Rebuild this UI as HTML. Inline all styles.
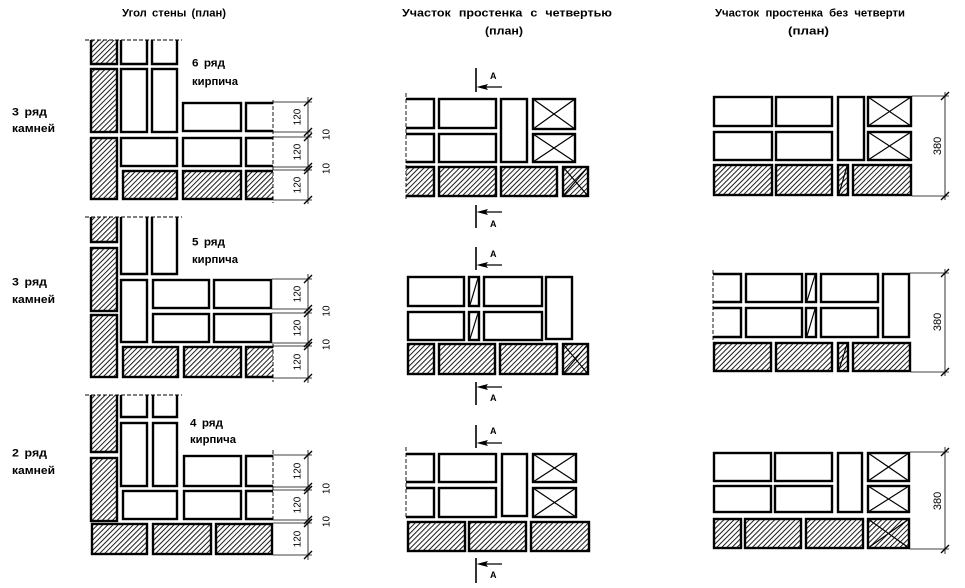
<!DOCTYPE html>
<html><head><meta charset="utf-8"><style>
html,body{margin:0;padding:0;background:#fff;}
svg{display:block;}
text{font-family:"Liberation Sans","DejaVu Sans",sans-serif;font-weight:bold;fill:#000;}
.b{fill:#fff;stroke:#000;stroke-width:2.4;}
.h{fill:url(#hp);stroke:#000;stroke-width:2.4;}
.hf{fill:url(#hp);stroke:none;}
.o{fill:none;stroke:#000;stroke-width:2.4;}
.t{stroke:#000;stroke-width:0.8;fill:none;}
.d{stroke:#000;stroke-width:0.9;fill:none;stroke-dasharray:4 2;}
.x{stroke:#000;stroke-width:1.2;fill:none;}
.k{stroke:#000;stroke-width:1.3;}
.m{stroke:#000;stroke-width:1.6;}
.n{font-size:10px;font-weight:normal;}
</style></head><body>
<svg width="965" height="588" viewBox="0 0 965 588" xmlns="http://www.w3.org/2000/svg">
<defs>
<pattern id="hp" patternUnits="userSpaceOnUse" width="3.6" height="3.6" patternTransform="rotate(45)">
<line x1="1" y1="0" x2="1" y2="3.6" stroke="#000" stroke-width="0.9"/>
</pattern>
</defs>
<rect width="965" height="588" fill="#fff"/>

<!-- headers -->
<text x="122" y="16.5" font-size="11" textLength="104" lengthAdjust="spacingAndGlyphs" word-spacing="2">Угол стены (план)</text>
<text x="402" y="16.5" font-size="11" textLength="210" lengthAdjust="spacingAndGlyphs" word-spacing="4">Участок простенка с четвертью</text>
<text x="485" y="34.5" font-size="11" textLength="38" lengthAdjust="spacingAndGlyphs">(план)</text>
<text x="715" y="16.5" font-size="11" textLength="190" lengthAdjust="spacingAndGlyphs" word-spacing="3">Участок простенка без четверти</text>
<text x="788" y="34.5" font-size="11" textLength="41" lengthAdjust="spacingAndGlyphs">(план)</text>

<!-- ================= LEFT ROW 1 ================= -->
<line class="d" x1="85" y1="40" x2="182" y2="40"/>
<rect class="hf" x="90" y="40" width="28" height="25"/>
<path class="o" d="M91 40 V64 H117 V40"/>
<rect class="h" x="91" y="69" width="26" height="63"/>
<rect class="h" x="91" y="138" width="26" height="61"/>
<path class="o" d="M121 40 V64 H147 V40"/>
<rect class="b" x="121" y="69" width="26" height="63"/>
<path class="o" d="M152 40 V64 H177 V40"/>
<rect class="b" x="152" y="69" width="25" height="63"/>
<rect class="b" x="121" y="138" width="56" height="28"/>
<rect class="b" x="183" y="103" width="58" height="28"/>
<path class="o" d="M273 103 H246 V131 H273"/>
<rect class="b" x="183" y="138" width="58" height="28"/>
<path class="o" d="M273 138 H246 V166 H273"/>
<rect class="h" x="123" y="171" width="54" height="28"/>
<rect class="h" x="183" y="171" width="58" height="28"/>
<rect class="hf" x="245" y="170" width="28" height="30"/>
<path class="o" d="M273 171 H246 V199 H273"/>
<line class="d" x1="273" y1="100" x2="273" y2="203"/>
<g class="t">
<line x1="273" y1="102" x2="312" y2="102"/><line x1="273" y1="132" x2="312" y2="132"/>
<line x1="273" y1="137" x2="312" y2="137"/><line x1="273" y1="167" x2="312" y2="167"/>
<line x1="273" y1="170" x2="312" y2="170"/><line x1="273" y1="200" x2="312" y2="200"/>
<line x1="308" y1="97" x2="308" y2="204"/>
</g>
<g class="k">
<line x1="304" y1="106" x2="312" y2="98"/><line x1="304" y1="136" x2="312" y2="128"/>
<line x1="304" y1="141" x2="312" y2="133"/><line x1="304" y1="171" x2="312" y2="163"/>
<line x1="304" y1="174" x2="312" y2="166"/><line x1="304" y1="204" x2="312" y2="196"/>
</g>
<text class="n" transform="translate(300.5,117) rotate(-90)" text-anchor="middle">120</text>
<text class="n" transform="translate(300.5,152) rotate(-90)" text-anchor="middle">120</text>
<text class="n" transform="translate(300.5,185) rotate(-90)" text-anchor="middle">120</text>
<text class="n" transform="translate(329.5,134.5) rotate(-90)" text-anchor="middle">10</text>
<text class="n" transform="translate(329.5,168.5) rotate(-90)" text-anchor="middle">10</text>
<text x="192" y="66.5" font-size="11" textLength="33" lengthAdjust="spacingAndGlyphs" word-spacing="2">6 ряд</text>
<text x="192" y="85" font-size="11" textLength="46" lengthAdjust="spacingAndGlyphs">кирпича</text>
<text x="12" y="115.5" font-size="11" textLength="35" lengthAdjust="spacingAndGlyphs" word-spacing="2">3 ряд</text>
<text x="12" y="132" font-size="11" textLength="43" lengthAdjust="spacingAndGlyphs">камней</text>

<!-- ================= LEFT ROW 2 ================= -->
<line class="d" x1="85" y1="217" x2="182" y2="217"/>
<rect class="hf" x="90" y="217" width="28" height="26"/>
<path class="o" d="M91 217 V242 H117 V217"/>
<rect class="h" x="91" y="248" width="26" height="63"/>
<rect class="h" x="91" y="315" width="26" height="62"/>
<path class="o" d="M121 217 V274 H147 V217"/>
<rect class="b" x="121" y="280" width="26" height="62"/>
<path class="o" d="M152 217 V274 H177 V217"/>
<rect class="b" x="153" y="280" width="56" height="28"/>
<rect class="b" x="214" y="280" width="57" height="28"/>
<rect class="b" x="153" y="314" width="56" height="28"/>
<rect class="b" x="214" y="314" width="57" height="28"/>
<rect class="h" x="123" y="347" width="55" height="30"/>
<rect class="h" x="184" y="347" width="57" height="30"/>
<rect class="hf" x="245" y="346" width="28" height="32"/>
<path class="o" d="M273 347 H246 V377 H273"/>
<line class="d" x1="273" y1="344" x2="273" y2="382"/>
<g class="t">
<line x1="272" y1="279" x2="312" y2="279"/><line x1="272" y1="309" x2="312" y2="309"/>
<line x1="272" y1="313" x2="312" y2="313"/><line x1="272" y1="343" x2="312" y2="343"/>
<line x1="273" y1="346" x2="312" y2="346"/><line x1="273" y1="378" x2="312" y2="378"/>
<line x1="308" y1="274" x2="308" y2="383"/>
</g>
<g class="k">
<line x1="304" y1="283" x2="312" y2="275"/><line x1="304" y1="313" x2="312" y2="305"/>
<line x1="304" y1="317" x2="312" y2="309"/><line x1="304" y1="347" x2="312" y2="339"/>
<line x1="304" y1="350" x2="312" y2="342"/><line x1="304" y1="382" x2="312" y2="374"/>
</g>
<text class="n" transform="translate(300.5,294) rotate(-90)" text-anchor="middle">120</text>
<text class="n" transform="translate(300.5,328) rotate(-90)" text-anchor="middle">120</text>
<text class="n" transform="translate(300.5,362) rotate(-90)" text-anchor="middle">120</text>
<text class="n" transform="translate(329.5,311) rotate(-90)" text-anchor="middle">10</text>
<text class="n" transform="translate(329.5,344.5) rotate(-90)" text-anchor="middle">10</text>
<text x="192" y="245.5" font-size="11" textLength="33" lengthAdjust="spacingAndGlyphs" word-spacing="2">5 ряд</text>
<text x="192" y="263" font-size="11" textLength="46" lengthAdjust="spacingAndGlyphs">кирпича</text>
<text x="12" y="285.5" font-size="11" textLength="35" lengthAdjust="spacingAndGlyphs" word-spacing="2">3 ряд</text>
<text x="12" y="303" font-size="11" textLength="43" lengthAdjust="spacingAndGlyphs">камней</text>

<!-- ================= LEFT ROW 3 ================= -->
<line class="d" x1="85" y1="395" x2="182" y2="395"/>
<rect class="hf" x="90" y="395" width="28" height="58"/>
<path class="o" d="M91 395 V452 H117 V395"/>
<rect class="h" x="91" y="458" width="26" height="63"/>
<path class="o" d="M121 395 V417 H147 V395"/>
<rect class="b" x="121" y="423" width="26" height="63"/>
<path class="o" d="M153 395 V417 H177 V395"/>
<rect class="b" x="153" y="423" width="24" height="63"/>
<rect class="b" x="184" y="456" width="57" height="30"/>
<path class="o" d="M273 456 H246 V486 H273"/>
<rect class="b" x="123" y="491" width="54" height="28"/>
<rect class="b" x="184" y="491" width="57" height="28"/>
<path class="o" d="M273 491 H246 V519 H273"/>
<rect class="h" x="92" y="524" width="55" height="30"/>
<rect class="h" x="153" y="524" width="58" height="30"/>
<rect class="h" x="216" y="524" width="56" height="30"/>
<line class="d" x1="273" y1="450" x2="273" y2="522"/>
<g class="t">
<line x1="273" y1="455" x2="312" y2="455"/><line x1="273" y1="487" x2="312" y2="487"/>
<line x1="273" y1="490" x2="312" y2="490"/><line x1="273" y1="520" x2="312" y2="520"/>
<line x1="273" y1="523" x2="312" y2="523"/><line x1="273" y1="555" x2="312" y2="555"/>
<line x1="308" y1="450" x2="308" y2="560"/>
</g>
<g class="k">
<line x1="304" y1="459" x2="312" y2="451"/><line x1="304" y1="491" x2="312" y2="483"/>
<line x1="304" y1="494" x2="312" y2="486"/><line x1="304" y1="524" x2="312" y2="516"/>
<line x1="304" y1="527" x2="312" y2="519"/><line x1="304" y1="559" x2="312" y2="551"/>
</g>
<text class="n" transform="translate(300.5,471) rotate(-90)" text-anchor="middle">120</text>
<text class="n" transform="translate(300.5,505) rotate(-90)" text-anchor="middle">120</text>
<text class="n" transform="translate(300.5,539) rotate(-90)" text-anchor="middle">120</text>
<text class="n" transform="translate(329.5,488.5) rotate(-90)" text-anchor="middle">10</text>
<text class="n" transform="translate(329.5,521.5) rotate(-90)" text-anchor="middle">10</text>
<text x="190" y="426.5" font-size="11" textLength="33" lengthAdjust="spacingAndGlyphs" word-spacing="2">4 ряд</text>
<text x="190" y="443" font-size="11" textLength="46" lengthAdjust="spacingAndGlyphs">кирпича</text>
<text x="12" y="456.5" font-size="11" textLength="35" lengthAdjust="spacingAndGlyphs" word-spacing="2">2 ряд</text>
<text x="12" y="474" font-size="11" textLength="43" lengthAdjust="spacingAndGlyphs">камней</text>

<!-- ================= MIDDLE ROW 1 ================= -->
<line class="d" x1="406" y1="93" x2="406" y2="199"/>
<path class="o" d="M406 99 H434 V128 H406"/>
<rect class="b" x="439" y="99" width="57" height="29"/>
<rect class="b" x="501" y="99" width="26" height="63"/>
<rect class="b" x="533" y="99" width="42" height="30"/>
<path class="x" d="M533 99 L575 129 M575 99 L533 129"/>
<path class="o" d="M406 134 H434 V162 H406"/>
<rect class="b" x="439" y="134" width="57" height="28"/>
<rect class="b" x="533" y="134" width="42" height="28"/>
<path class="x" d="M533 134 L575 162 M575 134 L533 162"/>
<rect class="hf" x="406" y="166" width="29" height="31"/>
<path class="o" d="M406 167 H434 V196 H406"/>
<rect class="h" x="439" y="167" width="57" height="29"/>
<rect class="h" x="501" y="167" width="56" height="29"/>
<rect class="h" x="563" y="167" width="25" height="29"/>
<path class="x" d="M563 167 L588 196 M588 167 L563 196"/>
<line class="m" x1="476" y1="68" x2="476" y2="92"/>
<line class="x" x1="480" y1="87" x2="502" y2="87"/>
<polygon points="476.5,87 488,84 486,87 488,90" fill="#000"/>
<text x="490" y="79" font-size="9">A</text>
<line class="m" x1="476" y1="205" x2="476" y2="228"/>
<line class="x" x1="480" y1="212" x2="502" y2="212"/>
<polygon points="476.5,212 488,209 486,212 488,215" fill="#000"/>
<text x="490" y="227" font-size="9">A</text>

<!-- ================= MIDDLE ROW 2 ================= -->
<rect class="b" x="408" y="277" width="56" height="29"/>
<rect class="b" x="469" y="277" width="10" height="29"/>
<line class="x" x1="470" y1="305" x2="478" y2="278"/>
<rect class="b" x="484" y="277" width="58" height="29"/>
<rect class="b" x="546" y="277" width="26" height="62"/>
<rect class="b" x="408" y="312" width="56" height="28"/>
<rect class="b" x="469" y="312" width="10" height="28"/>
<line class="x" x1="470" y1="339" x2="478" y2="313"/>
<rect class="b" x="484" y="312" width="58" height="28"/>
<rect class="h" x="408" y="344" width="26" height="30"/>
<rect class="h" x="439" y="344" width="56" height="30"/>
<rect class="h" x="500" y="344" width="57" height="30"/>
<rect class="h" x="563" y="344" width="25" height="30"/>
<path class="x" d="M563 344 L588 374 M588 344 L563 374"/>
<line class="m" x1="476" y1="247" x2="476" y2="270"/>
<line class="x" x1="480" y1="265" x2="502" y2="265"/>
<polygon points="476.5,265 488,262 486,265 488,268" fill="#000"/>
<text x="490" y="257" font-size="9">A</text>
<line class="m" x1="476" y1="382" x2="476" y2="405"/>
<line class="x" x1="480" y1="387" x2="502" y2="387"/>
<polygon points="476.5,387 488,384 486,387 488,390" fill="#000"/>
<text x="490" y="401" font-size="9">A</text>

<!-- ================= MIDDLE ROW 3 ================= -->
<line class="d" x1="406" y1="447" x2="406" y2="519"/>
<path class="o" d="M406 454 H434 V482 H406"/>
<rect class="b" x="439" y="454" width="57" height="28"/>
<rect class="b" x="502" y="454" width="25" height="62"/>
<rect class="b" x="533" y="454" width="43" height="28"/>
<path class="x" d="M533 454 L576 482 M576 454 L533 482"/>
<path class="o" d="M406 488 H434 V517 H406"/>
<rect class="b" x="439" y="488" width="57" height="29"/>
<rect class="b" x="533" y="488" width="43" height="29"/>
<path class="x" d="M533 488 L576 517 M576 488 L533 517"/>
<rect class="h" x="408" y="522" width="57" height="29"/>
<rect class="h" x="469" y="522" width="57" height="29"/>
<rect class="h" x="531" y="522" width="58" height="29"/>
<line class="m" x1="476" y1="425" x2="476" y2="448"/>
<line class="x" x1="480" y1="443" x2="502" y2="443"/>
<polygon points="476.5,443 488,440 486,443 488,446" fill="#000"/>
<text x="490" y="434" font-size="9">A</text>
<line class="m" x1="476" y1="558" x2="476" y2="583"/>
<line class="x" x1="480" y1="564" x2="502" y2="564"/>
<polygon points="476.5,564 488,561 486,564 488,567" fill="#000"/>
<text x="490" y="578" font-size="9">A</text>

<!-- ================= RIGHT ROW 1 ================= -->
<rect class="b" x="714" y="97" width="58" height="29"/>
<rect class="b" x="776" y="97" width="56" height="29"/>
<rect class="b" x="838" y="97" width="26" height="63"/>
<rect class="b" x="868" y="97" width="43" height="29"/>
<path class="x" d="M868 97 L911 126 M911 97 L868 126"/>
<rect class="b" x="714" y="132" width="58" height="28"/>
<rect class="b" x="776" y="132" width="56" height="28"/>
<rect class="b" x="868" y="132" width="43" height="28"/>
<path class="x" d="M868 132 L911 160 M911 132 L868 160"/>
<rect class="h" x="714" y="165" width="58" height="30"/>
<rect class="h" x="776" y="165" width="56" height="30"/>
<rect class="h" x="838" y="165" width="10" height="30"/>
<line class="x" x1="839" y1="194" x2="847" y2="166"/>
<rect class="h" x="853" y="165" width="58" height="30"/>
<g class="t">
<line x1="912" y1="96" x2="949" y2="96"/><line x1="912" y1="196" x2="949" y2="196"/>
<line x1="945" y1="92" x2="945" y2="200"/>
</g>
<g class="k">
<line x1="941" y1="100" x2="949" y2="92"/><line x1="941" y1="200" x2="949" y2="192"/>
</g>
<text class="n" style="font-size:11px" transform="translate(941,146) rotate(-90)" text-anchor="middle">380</text>

<!-- ================= RIGHT ROW 2 ================= -->
<line class="d" x1="713" y1="270" x2="713" y2="340"/>
<path class="o" d="M713 274 H741 V302 H713"/>
<rect class="b" x="746" y="274" width="56" height="28"/>
<rect class="b" x="806" y="274" width="10" height="28"/>
<line class="x" x1="807" y1="301" x2="815" y2="275"/>
<rect class="b" x="821" y="274" width="57" height="28"/>
<rect class="b" x="883" y="274" width="26" height="63"/>
<path class="o" d="M713 308 H741 V337 H713"/>
<rect class="b" x="746" y="308" width="56" height="29"/>
<rect class="b" x="806" y="308" width="10" height="29"/>
<line class="x" x1="807" y1="336" x2="815" y2="309"/>
<rect class="b" x="821" y="308" width="57" height="29"/>
<rect class="h" x="714" y="343" width="57" height="28"/>
<rect class="h" x="776" y="343" width="56" height="28"/>
<rect class="h" x="838" y="343" width="10" height="28"/>
<line class="x" x1="839" y1="370" x2="847" y2="344"/>
<rect class="h" x="853" y="343" width="57" height="28"/>
<g class="t">
<line x1="910" y1="273" x2="949" y2="273"/><line x1="911" y1="372" x2="949" y2="372"/>
<line x1="945" y1="269" x2="945" y2="376"/>
</g>
<g class="k">
<line x1="941" y1="277" x2="949" y2="269"/><line x1="941" y1="376" x2="949" y2="368"/>
</g>
<text class="n" style="font-size:11px" transform="translate(941,322) rotate(-90)" text-anchor="middle">380</text>

<!-- ================= RIGHT ROW 3 ================= -->
<rect class="b" x="714" y="453" width="57" height="28"/>
<rect class="b" x="775" y="453" width="57" height="28"/>
<rect class="b" x="838" y="453" width="24" height="59"/>
<rect class="b" x="868" y="453" width="41" height="28"/>
<path class="x" d="M868 453 L909 481 M909 453 L868 481"/>
<rect class="b" x="714" y="486" width="57" height="26"/>
<rect class="b" x="775" y="486" width="57" height="26"/>
<rect class="b" x="868" y="486" width="41" height="26"/>
<path class="x" d="M868 486 L909 512 M909 486 L868 512"/>
<rect class="h" x="714" y="519" width="27" height="29"/>
<rect class="h" x="745" y="519" width="56" height="29"/>
<rect class="h" x="806" y="519" width="57" height="29"/>
<rect class="h" x="868" y="519" width="41" height="29"/>
<path class="x" d="M868 519 L909 548 M909 519 L868 548"/>
<g class="t">
<line x1="910" y1="452" x2="949" y2="452"/><line x1="910" y1="549" x2="949" y2="549"/>
<line x1="945" y1="447" x2="945" y2="554"/>
</g>
<g class="k">
<line x1="941" y1="456" x2="949" y2="448"/><line x1="941" y1="553" x2="949" y2="545"/>
</g>
<text class="n" style="font-size:11px" transform="translate(941,501) rotate(-90)" text-anchor="middle">380</text>
</svg>
</body></html>
